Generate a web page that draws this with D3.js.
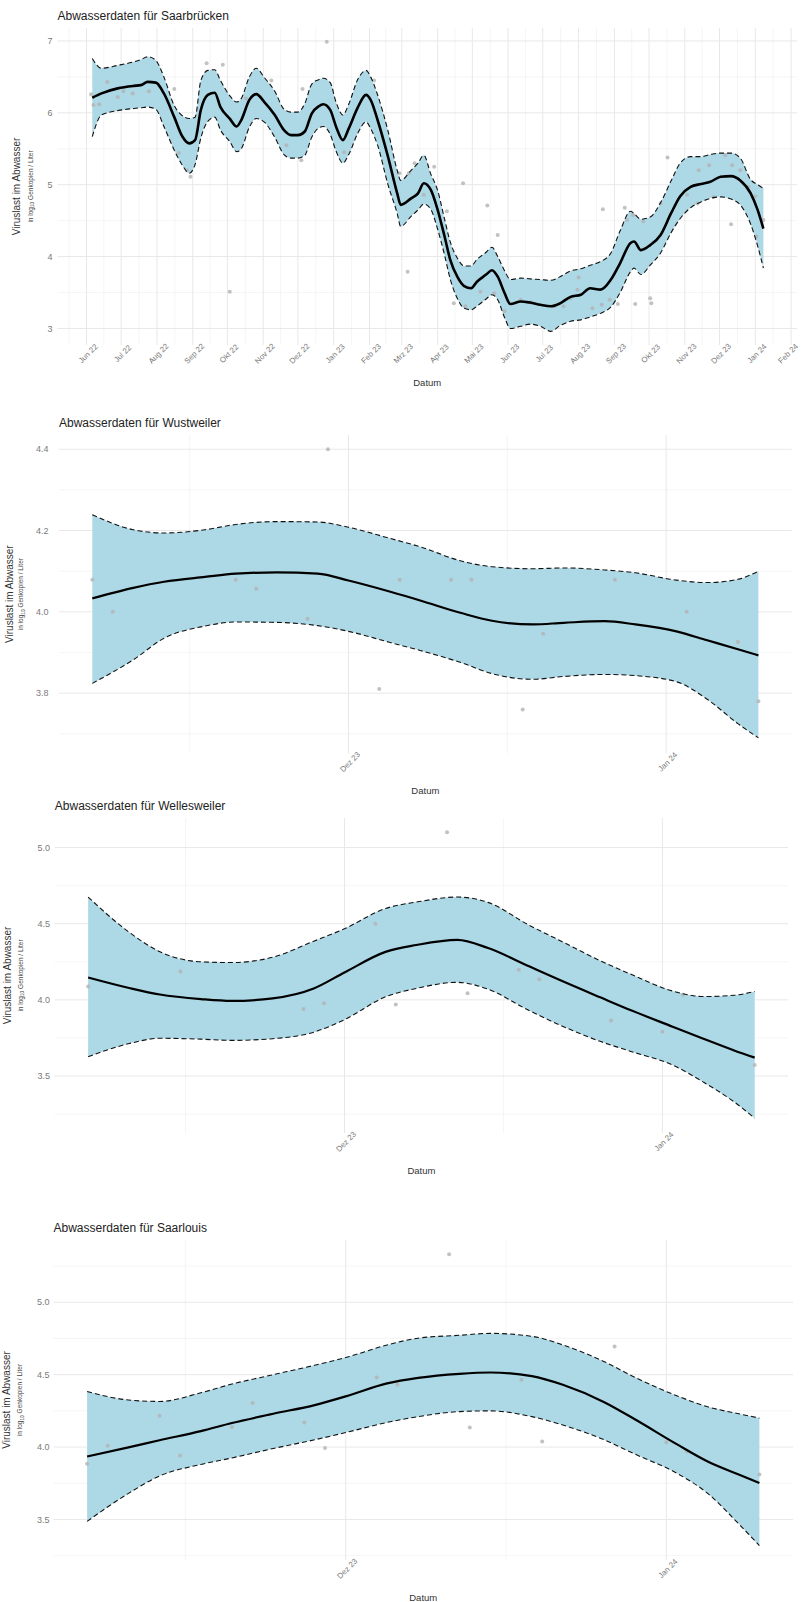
<!DOCTYPE html>
<html><head><meta charset="utf-8">
<script src="https://cdn.jsdelivr.net/npm/d3@7"></script>
<style>
body{margin:0;background:#fff}
svg{display:block}
text{font-family:"Liberation Sans",Arial,Helvetica,sans-serif}
</style>
</head><body>
<svg id="chart" width="801" height="1602"></svg>
<script>
// ---------------- Saarbrücken ----------------
const sbFitDates = ["2022-06-06","2022-06-14","2022-06-28","2022-07-12","2022-07-18","2022-07-24","2022-07-31","2022-08-07","2022-08-16","2022-08-23","2022-08-29","2022-09-03","2022-09-08","2022-09-14","2022-09-20","2022-09-25","2022-10-03","2022-10-09","2022-10-13","2022-10-20","2022-10-26","2022-11-02","2022-11-11","2022-11-19","2022-11-25","2022-12-01","2022-12-07","2022-12-13","2022-12-19","2022-12-23","2022-12-29","2023-01-03","2023-01-09","2023-01-14","2023-01-22","2023-01-29","2023-02-02","2023-02-08","2023-02-17","2023-02-25","2023-02-28","2023-03-09","2023-03-15","2023-03-20","2023-03-26","2023-04-01","2023-04-07","2023-04-12","2023-04-18","2023-04-24","2023-04-30","2023-05-05","2023-05-13","2023-05-18","2023-05-23","2023-05-29","2023-06-03","2023-06-12","2023-06-20","2023-06-29","2023-07-08","2023-07-16","2023-07-25","2023-08-03","2023-08-11","2023-08-20","2023-08-29","2023-09-06","2023-09-15","2023-09-18","2023-09-24","2023-10-02","2023-10-11","2023-10-20","2023-10-28","2023-11-06","2023-11-15","2023-11-23","2023-12-02","2023-12-11","2023-12-19","2023-12-28","2024-01-03","2024-01-08"];
const sbFit = [6.21,6.27,6.34,6.375,6.385,6.43,6.42,6.27,5.94,5.67,5.575,5.62,6.04,6.25,6.28,6.08,5.92,5.81,5.9,6.18,6.26,6.15,5.97,5.76,5.69,5.69,5.74,5.99,6.09,6.12,6.04,5.81,5.62,5.78,6.08,6.25,6.18,5.9,5.39,4.88,4.72,4.81,4.88,5.02,4.93,4.65,4.28,3.95,3.72,3.59,3.56,3.65,3.75,3.81,3.72,3.49,3.34,3.375,3.36,3.33,3.31,3.35,3.44,3.47,3.56,3.54,3.68,3.91,4.19,4.21,4.09,4.16,4.30,4.6,4.84,4.97,5.01,5.04,5.11,5.12,5.06,4.88,4.65,4.39];
const sbLower = [5.67,5.97,6.03,6.06,6.07,6.08,6.05,5.81,5.48,5.27,5.16,5.28,5.65,5.88,5.94,5.76,5.6,5.46,5.5,5.8,5.92,5.87,5.66,5.42,5.37,5.37,5.41,5.66,5.79,5.81,5.7,5.47,5.30,5.42,5.72,5.875,5.78,5.55,5.0,4.6,4.42,4.56,4.65,4.73,4.66,4.38,4.02,3.68,3.42,3.28,3.26,3.31,3.41,3.47,3.4,3.15,3.0,3.03,3.06,3.03,2.96,3.04,3.1,3.12,3.16,3.21,3.3,3.5,3.79,3.84,3.75,3.88,4.05,4.33,4.53,4.68,4.76,4.81,4.83,4.8,4.72,4.45,4.15,3.84];
const sbUpper = [6.755,6.62,6.66,6.71,6.74,6.78,6.73,6.5,6.1,5.96,5.92,5.94,6.45,6.59,6.6,6.45,6.24,6.15,6.2,6.5,6.62,6.49,6.3,6.05,6.01,6.01,6.13,6.4,6.46,6.48,6.42,6.15,5.97,6.12,6.47,6.59,6.5,6.25,5.75,5.2,5.06,5.2,5.3,5.41,5.15,4.92,4.52,4.2,3.98,3.87,3.87,3.96,4.06,4.13,4.0,3.8,3.68,3.7,3.69,3.68,3.67,3.72,3.8,3.83,3.88,3.93,4.05,4.36,4.63,4.6,4.52,4.55,4.75,5.05,5.30,5.39,5.39,5.42,5.44,5.44,5.37,5.07,5.0,4.95];
const sbPointDates = ["2022-06-05","2022-06-07","2022-06-12","2022-06-19","2022-06-28","2022-07-03","2022-07-11","2022-07-25","2022-08-16","2022-08-20","2022-08-27","2022-08-30","2022-09-13","2022-09-27","2022-10-03","2022-10-17","2022-11-08","2022-11-21","2022-12-04","2022-12-05","2022-12-26","2023-01-10","2023-02-05","2023-02-27","2023-03-06","2023-03-07","2023-03-12","2023-03-20","2023-03-29","2023-04-09","2023-04-15","2023-04-23","2023-04-25","2023-05-08","2023-05-14","2023-05-20","2023-05-23","2023-05-29","2023-06-12","2023-06-21","2023-07-11","2023-07-19","2023-07-25","2023-07-31","2023-08-01","2023-08-13","2023-08-21","2023-08-22","2023-08-28","2023-09-04","2023-09-10","2023-09-12","2023-09-17","2023-09-19","2023-09-26","2023-10-02","2023-10-03","2023-10-11","2023-10-17","2023-11-03","2023-11-12","2023-11-13","2023-11-22","2023-11-26","2023-12-06","2023-12-11","2023-12-12","2023-12-19","2023-12-26","2024-01-01","2024-01-02","2024-01-08"];
const sbPointValues = [6.26,6.11,6.12,6.43,6.22,6.3,6.27,6.3,6.33,5.44,5.2,5.11,6.69,6.67,3.51,6.2,6.45,5.55,5.34,6.33,6.99,5.45,6.45,5.16,3.79,5.16,5.30,4.86,5.25,4.63,3.35,5.02,3.31,3.51,4.71,3.49,4.30,3.24,3.40,3.36,3.31,3.31,3.42,3.54,3.71,3.28,3.33,4.66,3.40,3.34,4.68,4.51,4.58,3.34,4.49,3.42,3.35,4.74,5.38,4.86,4.74,5.2,5.27,4.83,5.41,4.45,5.27,5.2,4.97,4.84,4.28,4.51];
const sbMonthDates = ["2022-06-01","2022-07-01","2022-08-01","2022-09-01","2022-10-01","2022-11-01","2022-12-01","2023-01-01","2023-02-01","2023-03-01","2023-04-01","2023-05-01","2023-06-01","2023-07-01","2023-08-01","2023-09-01","2023-10-01","2023-11-01","2023-12-01","2024-01-01","2024-02-01"];
const sbMonthLabels = ["Jun 22","Jul 22","Aug 22","Sep 22","Okt 22","Nov 22","Dez 22","Jan 23","Feb 23","Mrz 23","Apr 23","Mai 23","Jun 23","Jul 23","Aug 23","Sep 23","Okt 23","Nov 23","Dez 23","Jan 24","Feb 24"];
const sbYTicks = [3,4,5,6,7];
const sbYTickLabels = ["3","4","5","6","7"];

// ---------------- shared short period (Nov 2023 – Jan 2024) ----------------
const shortFitDates = ["2023-11-06","2023-11-10","2023-11-13","2023-11-17","2023-11-20","2023-11-24","2023-11-28","2023-12-01","2023-12-05","2023-12-08","2023-12-12","2023-12-15","2023-12-19","2023-12-22","2023-12-26","2023-12-29","2024-01-02","2024-01-05","2024-01-08","2024-01-10"];
const shortMonthDates = ["2023-12-01","2024-01-01"];
const shortMonthLabels = ["Dez 23","Jan 24"];

// ---------------- Wustweiler ----------------
const wuFit   = [4.033,4.059,4.074,4.086,4.094,4.097,4.094,4.077,4.05,4.028,3.997,3.978,3.969,3.973,3.977,3.969,3.952,3.93,3.908,3.893];
const wuLower = [3.824,3.882,3.935,3.965,3.975,3.974,3.966,3.952,3.925,3.905,3.875,3.848,3.834,3.841,3.846,3.843,3.828,3.785,3.725,3.69];
const wuUpper = [4.239,4.202,4.194,4.202,4.215,4.222,4.221,4.208,4.181,4.16,4.125,4.111,4.106,4.108,4.103,4.096,4.078,4.072,4.08,4.10];
const wuPointDates = ["2023-11-06","2023-11-08","2023-11-20","2023-11-22","2023-11-27","2023-11-29","2023-12-04","2023-12-06","2023-12-11","2023-12-13","2023-12-18","2023-12-20","2023-12-27","2024-01-03","2024-01-08","2024-01-10"];
const wuPointValues = [4.079,4.0,4.079,4.057,3.983,4.40,3.81,4.079,4.079,4.079,3.76,3.946,4.079,4.0,3.926,3.78];
const wuYTicks = [3.8,4.0,4.2,4.4];
const wuYTickLabels = ["3.8","4.0","4.2","4.4"];

// ---------------- Wellesweiler ----------------
const weFit   = [4.147,4.078,4.035,4.005,3.993,4.01,4.075,4.18,4.315,4.36,4.394,4.34,4.22,4.13,4.015,3.93,3.824,3.745,3.668,3.621];
const weLower = [3.627,3.713,3.748,3.742,3.734,3.745,3.788,3.87,4.02,4.075,4.115,4.07,3.93,3.835,3.726,3.66,3.572,3.46,3.33,3.223];
const weUpper = [4.675,4.444,4.316,4.25,4.245,4.28,4.385,4.467,4.6,4.642,4.675,4.64,4.49,4.39,4.255,4.166,4.058,4.022,4.03,4.055];
const wePointDates = ["2023-11-06","2023-11-15","2023-11-27","2023-11-29","2023-12-04","2023-12-06","2023-12-11","2023-12-13","2023-12-18","2023-12-20","2023-12-27","2024-01-01","2024-01-03","2024-01-10"];
const wePointValues = [4.087,4.186,3.94,3.978,4.499,3.97,5.10,4.044,4.197,4.136,3.864,3.79,4.033,3.573];
const weYTicks = [3.5,4.0,4.5,5.0];
const weYTickLabels = ["3.5","4.0","4.5","5.0"];

// ---------------- Saarlouis ----------------
const slFit   = [3.935,3.998,4.047,4.11,4.166,4.23,4.29,4.35,4.44,4.478,4.506,4.515,4.49,4.43,4.31,4.19,4.02,3.9,3.81,3.752];
const slLower = [3.487,3.68,3.8,3.88,3.925,3.99,4.05,4.1,4.17,4.21,4.245,4.25,4.21,4.152,4.05,3.95,3.82,3.68,3.47,3.319];
const slUpper = [4.384,4.325,4.315,4.375,4.435,4.5,4.565,4.618,4.705,4.752,4.772,4.785,4.765,4.705,4.59,4.48,4.355,4.278,4.23,4.2];
const slPointDates = ["2023-11-06","2023-11-08","2023-11-13","2023-11-15","2023-11-20","2023-11-22","2023-11-27","2023-11-29","2023-12-04","2023-12-06","2023-12-11","2023-12-13","2023-12-18","2023-12-20","2023-12-27","2024-01-01","2024-01-03","2024-01-10"];
const slPointValues = [3.885,4.009,4.216,3.942,4.138,4.304,4.17,3.993,4.48,4.43,5.332,4.135,4.464,4.039,4.694,4.034,3.97,3.81];
const slYTicks = [3.5,4.0,4.5,5.0];
const slYTickLabels = ["3.5","4.0","4.5","5.0"];

// ---------------- panel table ----------------
const panels = [
  {title:"Abwasserdaten für Saarbrücken", fitDates:sbFitDates, fit:sbFit, lower:sbLower, upper:sbUpper,
   pDates:sbPointDates, pVals:sbPointValues, mDates:sbMonthDates, mLabels:sbMonthLabels, yTicks:sbYTicks, yLabels:sbYTickLabels,
   yDomain:[2.77,7.18], left:57.5, right:797, top:28, bottom:345, tickX:52.5, yTitleX:16, ySubX:30.5, lineW:2.6},
  {title:"Abwasserdaten für Wustweiler", fitDates:shortFitDates, fit:wuFit, lower:wuLower, upper:wuUpper,
   pDates:wuPointDates, pVals:wuPointValues, mDates:shortMonthDates, mLabels:shortMonthLabels, yTicks:wuYTicks, yLabels:wuYTickLabels,
   yDomain:[3.652,4.435], left:59, right:791.7, top:435, bottom:753.3, tickX:48.5, yTitleX:9.5, ySubX:21, lineW:2.2},
  {title:"Abwasserdaten für Wellesweiler", fitDates:shortFitDates, fit:weFit, lower:weLower, upper:weUpper,
   pDates:wePointDates, pVals:wePointValues, mDates:shortMonthDates, mLabels:shortMonthLabels, yTicks:weYTicks, yLabels:weYTickLabels,
   yDomain:[3.126,5.194], left:54.8, right:788, top:818, bottom:1133, tickX:50, yTitleX:7.5, ySubX:20.5, lineW:2.2},
  {title:"Abwasserdaten für Saarlouis", fitDates:shortFitDates, fit:slFit, lower:slLower, upper:slUpper,
   pDates:slPointDates, pVals:slPointValues, mDates:shortMonthDates, mLabels:shortMonthLabels, yTicks:slYTicks, yLabels:slYTickLabels,
   yDomain:[3.22,5.43], left:53.5, right:793, top:1240, bottom:1560, tickX:49.5, yTitleX:6.5, ySubX:20, lineW:2.2}
];

const parse = d3.utcParse("%Y-%m-%d");
const svg = d3.select("#chart");
svg.append("rect").attr("width",801).attr("height",1602).attr("fill","#fff");

function minorBreaks(majors, lo, hi, toNum, fromNum) {
  const b = majors.map(toNum);
  if (b.length < 2) return [];
  const bd = b[1]-b[0];
  if (lo < b[0]) b.unshift(b[0]-bd);
  if (hi > b[b.length-1]) b.push(b[b.length-1]+bd);
  const out = [];
  for (let i=0;i<b.length-1;i++){ const m=(b[i]+b[i+1])/2; if (m>=lo && m<=hi) out.push(fromNum(m)); }
  return out;
}

panels.forEach(p => {
  const g = svg.append("g");
  const fd = p.fitDates.map(parse), pd = p.pDates.map(parse), md = p.mDates.map(parse);
  const ext = d3.extent(fd.concat(pd));
  const span = ext[1]-ext[0];
  const x = d3.scaleUtc().domain([new Date(+ext[0]-0.05*span), new Date(+ext[1]+0.05*span)]).range([p.left,p.right]);
  const y = d3.scaleLinear().domain(p.yDomain).range([p.bottom,p.top]);
  const [x0,x1] = x.domain().map(Number);

  // grid
  const majX = md.filter(d=>+d>=x0&&+d<=x1);
  const minX = minorBreaks(majX, x0, x1, d=>+d, v=>new Date(v));
  const minY = minorBreaks(p.yTicks, p.yDomain[0], p.yDomain[1], v=>v, v=>v);
  const grid = g.append("g");
  grid.selectAll(".mx").data(minX).join("line").attr("x1",d=>x(d)).attr("x2",d=>x(d)).attr("y1",p.top).attr("y2",p.bottom).attr("stroke","#f1f1f1").attr("stroke-width",0.7);
  grid.selectAll(".my").data(minY).join("line").attr("y1",d=>y(d)).attr("y2",d=>y(d)).attr("x1",p.left).attr("x2",p.right).attr("stroke","#f1f1f1").attr("stroke-width",0.7);
  grid.selectAll(".Mx").data(majX).join("line").attr("x1",d=>x(d)).attr("x2",d=>x(d)).attr("y1",p.top).attr("y2",p.bottom).attr("stroke","#e8e8e8").attr("stroke-width",1);
  grid.selectAll(".My").data(p.yTicks).join("line").attr("y1",d=>y(d)).attr("y2",d=>y(d)).attr("x1",p.left).attr("x2",p.right).attr("stroke","#e8e8e8").attr("stroke-width",1);

  const rows = fd.map((d,i)=>({d, f:p.fit[i], lo:p.lower[i], hi:p.upper[i]}));
  const curve = d3.curveMonotoneX;
  g.append("path").datum(rows).attr("fill","#ADD8E6")
    .attr("d", d3.area().x(r=>x(r.d)).y0(r=>y(r.lo)).y1(r=>y(r.hi)).curve(curve));

  // points
  g.append("g").selectAll("circle").data(pd.map((d,i)=>({d,v:p.pVals[i]}))).join("circle")
    .attr("cx",r=>x(r.d)).attr("cy",r=>y(r.v)).attr("r",2).attr("fill","#b3b3b3").attr("opacity",0.8);

  // dashed bounds
  ["lo","hi"].forEach(k=>{
    g.append("path").datum(rows).attr("fill","none").attr("stroke","#111").attr("stroke-width",1.1)
      .attr("stroke-dasharray","5,3")
      .attr("d", d3.line().x(r=>x(r.d)).y(r=>y(r[k])).curve(curve));
  });
  // fit
  g.append("path").datum(rows).attr("fill","none").attr("stroke","#000").attr("stroke-width",p.lineW)
    .attr("stroke-linejoin","round")
    .attr("d", d3.line().x(r=>x(r.d)).y(r=>y(r.f)).curve(curve));

  // y tick labels
  g.append("g").selectAll("text").data(p.yTicks).join("text")
    .attr("x",p.tickX).attr("y",d=>y(d)).attr("dy","0.35em").attr("text-anchor","end")
    .attr("font-size",9).attr("fill","#7a7a7a").text((d,i)=>p.yLabels[i]);

  // x tick labels (rotated 45°), kept inside the 801 px canvas
  g.append("g").selectAll("text").data(md.map((d,i)=>({d,l:p.mLabels[i]})).filter(o=>+o.d>=x0&&+o.d<=x1)).join("text")
    .attr("transform",o=>`translate(${Math.min(x(o.d)+1.5, 788)},${p.bottom+8.5}) rotate(-45)`)
    .attr("text-anchor","middle").attr("dy","0.35em")
    .attr("font-size",7.8).attr("fill","#7a7a7a").text(o=>o.l);

  // titles
  g.append("text").attr("x",p.left).attr("y",p.top-8).attr("font-size",12).attr("fill","#222").text(p.title);
  g.append("text").attr("x",(p.left+p.right)/2).attr("y",p.bottom+41).attr("text-anchor","middle")
    .attr("font-size",9.5).attr("fill","#333").text("Datum");
  const cy = (p.top+p.bottom)/2;
  g.append("text").attr("transform",`translate(${p.yTitleX},${cy}) rotate(-90)`).attr("text-anchor","middle")
    .attr("dy","0.35em").attr("font-size",10).attr("fill","#333").text("Viruslast im Abwasser");
  const sub = g.append("text").attr("transform",`translate(${p.ySubX},${cy}) rotate(-90)`).attr("text-anchor","middle")
    .attr("dy","0.35em").attr("font-size",6.5).attr("fill","#444");
  sub.append("tspan").text("in log");
  sub.append("tspan").attr("font-size",4.8).attr("dy","1.6").text("10");
  sub.append("tspan").attr("dy","-1.6").text(" Genkopien / Liter");
});
</script>
</body></html>
